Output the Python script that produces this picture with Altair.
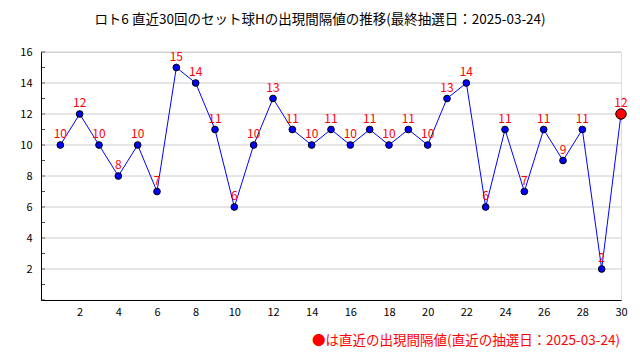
import altair as alt
import pandas as pd

draws = list(range(1, 31))
intervals = [10, 12, 10, 8, 10, 7, 15, 14, 11, 6, 10, 13, 11, 10, 11, 10, 11, 10, 11, 10,
             13, 14, 6, 11, 7, 11, 9, 11, 2, 12]
title_text = "ロト6 直近30回のセット球Hの出現間隔値の推移(最終抽選日：2025-03-24)"
footer_text = "●は直近の出現間隔値(直近の抽選日：2025-03-24)"
x_ticks = list(range(2, 31, 2))
y_grid = list(range(2, 17, 2))
y_minor = list(range(0, 17))

FONT = "Noto Sans CJK JP"
W, H = 580, 248

df = pd.DataFrame({"draw": draws, "val": intervals})
df["last"] = df["draw"] == draws[-1]

xs = alt.Scale(domain=[0, 30], nice=False)
ys = alt.Scale(domain=[0, 16], nice=False)

x_axis = alt.Axis(values=x_ticks, title=None, grid=False, ticks=False,
                  domainColor="black", labelColor="black", labelFont=FONT,
                  labelFontSize=11, labelPadding=6, labelFlush=False)
y_axis = alt.Axis(values=y_grid, title=None, grid=False, ticks=False,
                  domainColor="black", labelColor="black", labelFont=FONT,
                  labelFontSize=11, labelPadding=9)

X = lambda f: alt.X(f, scale=xs, axis=x_axis)
Y = lambda f: alt.Y(f, scale=ys, axis=y_axis)

grid = alt.Chart(pd.DataFrame({"g": y_grid})).mark_rule(color="#cccccc", strokeWidth=1).encode(
    y=Y("g:Q"),
    x=alt.value(4), x2=alt.value(W),
)

minor = alt.Chart(pd.DataFrame({"m": y_minor})).mark_tick(color="black", thickness=1, size=4).encode(
    y=Y("m:Q"),
    x=alt.value(2),
)

line = alt.Chart(df).mark_line(color="#0000ff", strokeWidth=1).encode(
    x=X("draw:Q"), y=Y("val:Q"))

pts = alt.Chart(df[~df["last"]]).mark_circle(color="#0000ff", stroke="black", strokeWidth=1, opacity=1, size=45).encode(
    x=X("draw:Q"), y=Y("val:Q"))

last_pt = alt.Chart(df[df["last"]]).mark_circle(color="#ff0000", stroke="black", strokeWidth=1, opacity=1, size=110).encode(
    x=X("draw:Q"), y=Y("val:Q"))

labels = alt.Chart(df).mark_text(color="#ff0000", font=FONT, fontSize=12, dy=-11, baseline="middle").encode(
    x=X("draw:Q"), y=Y("val:Q"), text="val:Q")

title = alt.Chart(pd.DataFrame({"t": [title_text]})).mark_text(
    font=FONT, fontSize=13.5, color="black", align="center", baseline="middle").encode(
    x=alt.value(279), y=alt.value(-32), text="t:N")

footer = alt.Chart(pd.DataFrame({"t": [footer_text]})).mark_text(
    font=FONT, fontSize=13.5, color="#ff0000", align="right", baseline="middle").encode(
    x=alt.value(579), y=alt.value(289), text="t:N")

chart = alt.layer(grid, minor, line, pts, last_pt, labels, title, footer).properties(
    width=W, height=H,
    autosize=alt.AutoSizeParams(type="none"),
    padding={"left": 33, "top": 44, "right": 11, "bottom": 52},
).configure_view(stroke=None).configure(background="white")

chart.save("out.html", embed_options={"renderer": "svg", "actions": False})
